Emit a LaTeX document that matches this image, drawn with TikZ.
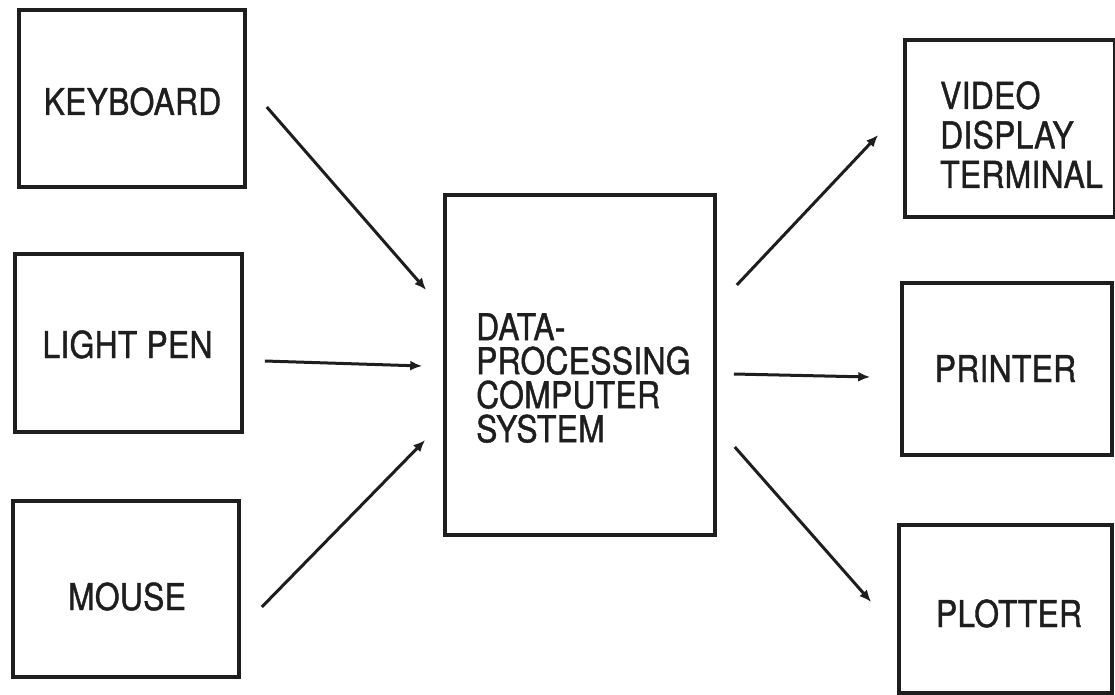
\documentclass[tikz,border=0pt]{standalone}
\usepackage{fontspec}
\setmainfont{TeX Gyre Heros}[FakeStretch=0.86,FakeBold=1.1,LetterSpace=0.8]
\usetikzlibrary{arrows.meta,calc}
\definecolor{ink}{HTML}{1E1E1E}
\begin{document}
\begin{tikzpicture}[x=1pt,y=-1pt,
  box/.style={draw=ink,line width=3.6pt,rectangle,inner sep=0pt},
  lbl/.style={text=ink,inner sep=0pt,font=\fontsize{37}{39}\selectfont},
  arr/.style={draw=ink,line width=3pt,-{Latex[length=12pt,width=10pt]}}]
\useasboundingbox (0,0) rectangle (1115,695);

% input devices
\node[box,minimum width=226pt,minimum height=177pt] (kbd) at (132,98.5) {};
\node[box,minimum width=227pt,minimum height=178pt] (pen) at (128.5,343) {};
\node[box,minimum width=226pt,minimum height=176pt] (mouse) at (126,589) {};
\node[lbl,anchor=base] (kbdt) at (132.5,115) {KEYBOARD};
\node[lbl,anchor=base] (pent) at (127.5,358) {LIGHT PEN};
\node[lbl,anchor=base] (mouset) at (127,610) {MOUSE};

% central processor
\node[box,minimum width=270pt,minimum height=340pt] (cpu) at (580,365) {};
\node[lbl,anchor=north west,align=left,font=\fontsize{37}{34}\selectfont] (cput) at (476,313)
  {DATA-\\PROCESSING\\COMPUTER\\SYSTEM};

% output devices
\node[box,minimum width=210pt,minimum height=177pt] (vdt) at (1010,128.5) {};
\node[box,minimum width=210pt,minimum height=172pt] (prn) at (1007,369) {};
\node[box,minimum width=213pt,minimum height=168pt] (plt) at (1005.5,609) {};
\node[lbl,anchor=north west,align=left,font=\fontsize{37}{39.5}\selectfont] (vdtt) at (940,81)
  {VIDEO\\DISPLAY\\TERMINAL};
\node[lbl,anchor=base] (prnt) at (1005.5,382) {PRINTER};
\node[lbl,anchor=base] (pltt) at (1009,627) {PLOTTER};

% data flow into the computer
\draw[arr] ($(kbd.east)+(20,8.5)$) -- ($(cpu.west)+(-17,-75)$);
\draw[arr] ($(pen.east)+(21,18)$) -- ($(cpu.west)+(-21,1)$);
\draw[arr] ($(mouse.east)+(21,18)$) -- ($(cpu.west)+(-18,75)$);

% data flow out of the computer
\draw[arr] ($(cpu.east)+(20,-80)$) -- ($(vdt.west)+(-25,6.5)$);
\draw[arr] ($(cpu.east)+(17,9)$) -- ($(prn.west)+(-30,8)$);
\draw[arr] ($(cpu.east)+(18,82)$) -- ($(plt.west)+(-26,-7)$);
\end{tikzpicture}
\end{document}
